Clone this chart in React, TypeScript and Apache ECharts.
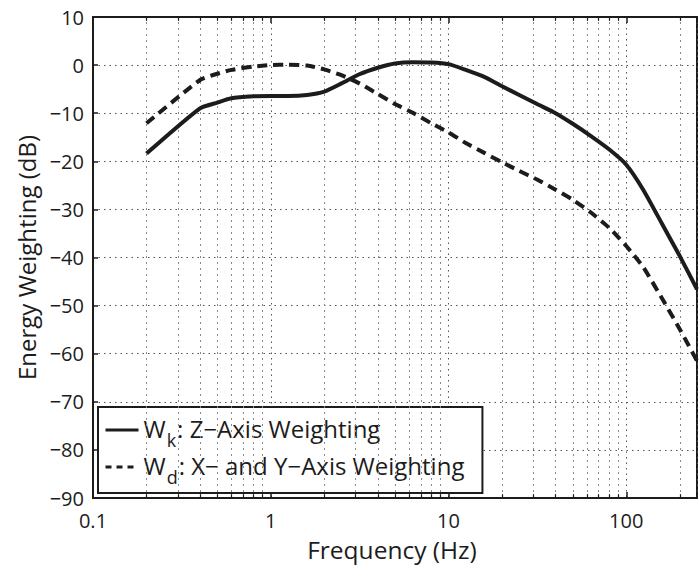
import React, { useEffect, useRef } from "react";
import * as echarts from "echarts";

const freqs = [0.2, 0.4, 0.5, 0.6, 0.8, 1, 1.25, 1.6, 2, 2.5, 3.15, 4, 5, 6.3, 8, 10, 12.5, 16, 20, 25, 31.5, 40, 50, 63, 80, 100, 125, 160, 200, 250];
const wkValues = [-18.4, -9.0, -7.8, -6.9, -6.5, -6.4, -6.4, -6.2, -5.5, -3.8, -1.9, -0.55, 0.35, 0.6, 0.55, 0.2, -1.0, -2.5, -4.4, -6.2, -8.1, -10.0, -12.2, -14.7, -17.5, -20.7, -26.0, -33.2, -39.7, -46.6];
const wdValues = [-12.1, -3.1, -1.8, -1.0, -0.3, 0.0, 0.1, -0.1, -0.9, -2.1, -3.8, -6.0, -8.1, -9.9, -12.1, -14.0, -16.2, -18.3, -20.2, -22.0, -23.8, -25.9, -28.0, -30.6, -33.8, -37.6, -42.1, -48.7, -54.9, -61.5];
const minorFreqs = [0.2, 0.3, 0.4, 0.5, 0.6, 0.7, 0.8, 0.9, 2, 3, 4, 5, 6, 7, 8, 9, 20, 30, 40, 50, 60, 70, 80, 90, 200];
const seriesNames = ["Wk", "Wd"];
const legendLabels = ["{w|W}{s|k}{t|: Z\u2212Axis Weighting}", "{w|W}{s|d}{t|: X\u2212 and Y\u2212Axis Weighting}"];
const xLabel = "Frequency (Hz)";
const yLabel = "Energy Weighting (dB)";

const font = "'Open Sans', sans-serif";
const ink = "#1c1c1c";

export default function App() {
  const ref = useRef<HTMLDivElement>(null);
  useEffect(() => {
    const chart = echarts.init(ref.current!, null, { renderer: "svg" });
    const xFmt = (v: number) => {
      const l = Math.log10(v);
      if (Math.abs(l - Math.round(l)) < 1e-6) return String(+v.toPrecision(3));
      return "";
    };
    const yFmt = (v: number) => (v < 0 ? "\u2212" + Math.abs(v) : String(v));
    const rich = {
      w: { fontSize: 24, lineHeight: 28, verticalAlign: "top", fontFamily: font, color: ink },
      s: { fontSize: 18, lineHeight: 18, padding: [15, 1, 0, 1], verticalAlign: "top", fontFamily: font, color: ink },
      t: { fontSize: 24, lineHeight: 28, verticalAlign: "top", fontFamily: font, color: ink },
    };
    const option: any = {
      animation: false,
      backgroundColor: "#fff",
      textStyle: { fontFamily: font },
      grid: { left: 93, top: 17, width: 615, height: 483, show: true, borderColor: ink, borderWidth: 2, backgroundColor: "transparent" },
      legend: {
        data: [
          { name: seriesNames[0], lineStyle: { width: 3, type: "solid" } },
          { name: seriesNames[1], lineStyle: { width: 3, type: [6, 5] } },
        ],
        orient: "vertical",
        left: 98,
        top: 407,
        padding: [9, 18, 7, 6],
        itemGap: 4,
        itemWidth: 33,
        itemHeight: 14,
        backgroundColor: "#fff",
        borderColor: ink,
        borderWidth: 2,
        borderRadius: 0,
        selectedMode: false,
        itemStyle: { opacity: 0 },
        formatter: (name: string) => legendLabels[seriesNames.indexOf(name)],
        textStyle: { color: ink, fontFamily: font, fontSize: 24, rich },
      },
      xAxis: [
        {
          type: "log", logBase: 10, min: 0.1, max: 250, position: "bottom",
          name: xLabel, nameLocation: "middle", nameGap: 39,
          nameTextStyle: { fontSize: 24.5, color: ink, fontFamily: font, padding: [0, 6, 0, 0] },
          axisLine: { show: true, onZero: false, lineStyle: { color: ink, width: 2 } },
          axisTick: { show: true, inside: true, length: 6, lineStyle: { color: ink, width: 1.5 } },
          axisLabel: { fontSize: 20, color: ink, margin: 12, formatter: xFmt, fontFamily: font },
          splitLine: { show: true, lineStyle: { color: "#555", type: [1.5, 4], width: 1 } },
        },
        {
          type: "log", logBase: 10, min: 0.1, max: 250, position: "top",
          axisLine: { show: true, onZero: false, lineStyle: { color: ink, width: 2 } },
          axisTick: { show: true, inside: true, length: 6, lineStyle: { color: ink, width: 1.5 } },
          axisLabel: { show: false },
          splitLine: { show: false },
        },
      ],
      yAxis: {
        type: "value", min: -90, max: 10, interval: 10,
        name: yLabel, nameLocation: "middle", nameGap: 54,
        nameTextStyle: { fontSize: 24, color: ink, fontFamily: font },
        axisLine: { show: true, onZero: false, lineStyle: { color: ink, width: 2 } },
        axisTick: { show: true, inside: true, length: 5, lineStyle: { color: ink, width: 1.5 } },
        axisLabel: { fontSize: 20, color: ink, margin: 9, formatter: yFmt, fontFamily: font },
        splitLine: { show: true, lineStyle: { color: "#555", type: [1.5, 4], width: 1 } },
      },
      series: [
        {
          type: "line", data: [], silent: true, z: 1,
          markLine: {
            silent: true, symbol: ["none", "none"], label: { show: false }, animation: false,
            lineStyle: { color: "#8a8a8a", type: [2, 4], width: 1 },
            data: minorFreqs.map((f) => ({ xAxis: f })),
          },
        },
        {
          type: "line", data: [], silent: true, z: 2,
          markLine: {
            silent: true, symbol: ["none", "none"], label: { show: false }, animation: false,
            lineStyle: { color: ink, type: "solid", width: 1.2 },
            data: minorFreqs.flatMap((f) => [
              [{ coord: [f, -90] }, { coord: [f, -89.2] }],
              [{ coord: [f, 10] }, { coord: [f, 9.2] }],
            ]),
          },
        },
        {
          name: seriesNames[0], type: "line", data: freqs.map((f, i) => [f, wkValues[i]]),
          showSymbol: false, symbol: "none", smooth: 0.2, z: 5,
          lineStyle: { color: ink, width: 4, type: "solid" }, itemStyle: { color: ink },
        },
        {
          name: seriesNames[1], type: "line", data: freqs.map((f, i) => [f, wdValues[i]]),
          showSymbol: false, symbol: "none", smooth: 0.2, z: 5,
          lineStyle: { color: ink, width: 4, type: [10, 6] }, itemStyle: { color: ink },
        },
      ],
    };
    chart.setOption(option);
    return () => chart.dispose();
  }, []);
  return <div ref={ref} style={{ position: "absolute", left: 0, top: 0, width: 700, height: 567, background: "#fff" }} />;
}
